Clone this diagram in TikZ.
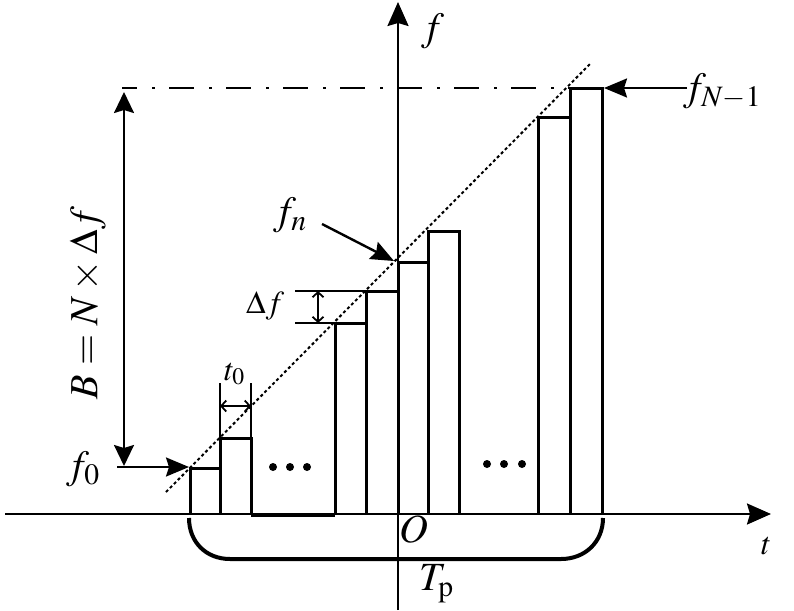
\documentclass[tikz,border=0pt]{standalone}
\usepackage{mathptmx}
\usetikzlibrary{arrows.meta}
\begin{document}
\begin{tikzpicture}[x=1pt,y=-1pt,
  axis/.style={line width=2.3pt},
  bar/.style={line width=3pt},
  bigarrow/.style={line width=2.4pt,-{Stealth[length=23pt,width=19pt,inset=3pt]}},
  dimarrow/.style={line width=1.8pt,{Straight Barb[length=5pt,width=11pt]}-{Straight Barb[length=5pt,width=11pt]}},
  extline/.style={line width=2.2pt},
  lbl/.style={inner sep=0pt,anchor=base west,font=\fontsize{40}{44}\selectfont},
  slbl/.style={inner sep=0pt,anchor=base west,font=\fontsize{32}{36}\selectfont},
]
\useasboundingbox (0,0) rectangle (794,610);
% axes
\coordinate (tx0) at (5,514);
\coordinate (tx1) at (771,514);
\coordinate (fy0) at (398,610);
\coordinate (fy1) at (398,2);
\draw[axis,-{Stealth[length=24pt,width=21pt,inset=3pt]}] (tx0) -- (tx1);
\draw[axis,-{Stealth[length=24pt,width=21pt,inset=3pt]}] (fy0) -- (fy1);
% bars
\foreach \a/\b/\h in {190/220/468,220/251/438,335/366/323,366/398/291,398/428/262,428/459/231,538/570/117,570/602/88}{
  \draw[bar] (\a,514) -- (\a,\h) -- (\b,\h) -- (\b,514);
}
\draw[bar] (251,515) -- (335,515);
% dots
\foreach \x in {273,290,307}{\fill (\x,467) circle (4pt);}
\foreach \x in {487,504,522}{\fill (\x,464) circle (4pt);}
% dotted diagonal
\coordinate (d0) at (166,492);
\coordinate (d1) at (590,64);
\draw[line width=2pt,dash pattern=on 3pt off 2.6pt] (d0) -- (d1);
% dash-dot line
\coordinate (h0) at (122,88);
\coordinate (h1) at (570,88);
\draw[line width=2.8pt,dash pattern=on 25pt off 15pt on 3pt off 14pt,dash phase=10pt] (h0) -- (h1);
% B arrow
\coordinate (b0) at (124,92);
\coordinate (b1) at (124,466);
\draw[line width=2.2pt,{Stealth[length=21pt,width=20pt,inset=3pt]}-{Stealth[length=21pt,width=20pt,inset=3pt]}] (b0) -- (b1);
\node[inner sep=0pt,rotate=90,font=\fontsize{40}{44}\selectfont] (B) at (88,303) {$B=N\times\Delta f$};
% f0 arrow
\coordinate (a0s) at (117,467);
\coordinate (a0e) at (189,467);
\draw[bigarrow] (a0s) -- (a0e);
\node[lbl] (f0) at (66,478) {$f_0$};
% fN-1 arrow
\coordinate (aNs) at (687,88);
\coordinate (aNe) at (604,88);
\draw[bigarrow] (aNs) -- (aNe);
\node[lbl] (fN) at (683,100) {$f_{N-1}$};
% fn arrow
\coordinate (ans) at (322,224);
\coordinate (ane) at (394,261);
\draw[bigarrow] (ans) -- (ane);
\node[lbl] (fn) at (273,224) {$f_n$};
% t0 dimension
\draw[extline] (220,438) -- (220,383);
\draw[extline] (251,438) -- (251,383);
\coordinate (t0a) at (220,406);
\coordinate (t0b) at (251,406);
\draw[dimarrow] (t0a) -- (t0b);
\node[slbl] (t0) at (224,380) {$t_0$};
% Delta f dimension
\draw[extline] (295,291) -- (366,291);
\draw[extline] (295,323) -- (335,323);
\coordinate (dfa) at (318,291);
\coordinate (dfb) at (318,323);
\draw[dimarrow] (dfa) -- (dfb);
\node[slbl] (df) at (246,313) {$\Delta f$};
% bracket
\draw[line width=4pt] (189,518) .. controls (189,542) and (206,559) .. (230,559) -- (561,559) .. controls (585,559) and (603,542) .. (603,518);
% axis labels
\node[lbl] (O) at (399,542) {$O$};
\node[lbl] (Tp) at (419,590) {$T_{\mathrm{p}}$};
\node[slbl] (t) at (761,554) {$t$};
\node[lbl] (f) at (421,41) {$f$};
\end{tikzpicture}
\end{document}
